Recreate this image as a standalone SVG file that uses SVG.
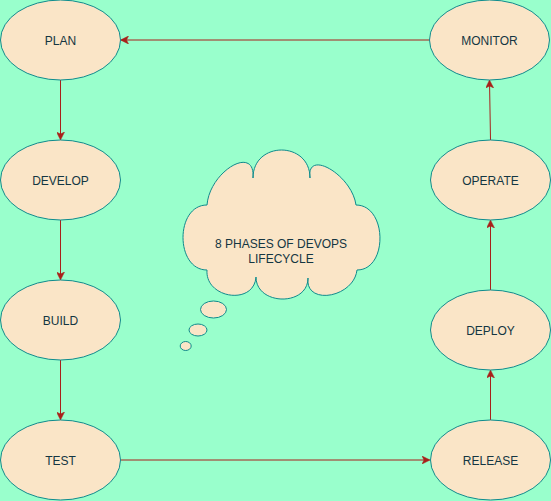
<svg xmlns="http://www.w3.org/2000/svg" width="551" height="501" viewBox="0 0 551 501">
  <style>
    .node { fill: #FAE5C7; stroke: #0F8B8D; stroke-width: 1; }
    .lbl { font-family: "Liberation Sans", Arial, sans-serif; font-size: 12px; fill: #143642; text-anchor: middle; }
    .edge { stroke: #A8201A; stroke-width: 1; fill: none; marker-end: url(#arr); }
  </style>
  <defs>
    <marker id="arr" viewBox="0 0 8 8" refX="7.5" refY="4" markerWidth="8" markerHeight="8" markerUnits="userSpaceOnUse" orient="auto">
      <path d="M0,0 L8,4 L0,8 L2,4 Z" fill="#A8201A" stroke="#A8201A" stroke-width="0.5"/>
    </marker>
  </defs>
  <rect x="0" y="0" width="551" height="501" fill="#99FFCC"/>

  <g id="connectors">
    <line class="edge" x1="429.5" y1="40" x2="121" y2="40"/>
    <line class="edge" x1="60.5" y1="80" x2="60.5" y2="139.5"/>
    <line class="edge" x1="60.5" y1="220" x2="60.5" y2="279.5"/>
    <line class="edge" x1="60.5" y1="360" x2="60.5" y2="419.5"/>
    <line class="edge" x1="120.5" y1="460" x2="429.5" y2="460"/>
    <line class="edge" x1="490.5" y1="420" x2="490.5" y2="370.5"/>
    <line class="edge" x1="490.5" y1="290" x2="490.5" y2="220.5"/>
    <line class="edge" x1="490.5" y1="140" x2="489.5" y2="80.5"/>
  </g>

  <g id="plan">
    <ellipse class="node" cx="60.5" cy="40" rx="60" ry="40"/>
    <text class="lbl" x="60.5" y="44.5">PLAN</text>
  </g>
  <g id="develop">
    <ellipse class="node" cx="60.5" cy="180" rx="60" ry="40"/>
    <text class="lbl" x="60.5" y="184.5">DEVELOP</text>
  </g>
  <g id="build">
    <ellipse class="node" cx="60.5" cy="320" rx="60" ry="40"/>
    <text class="lbl" x="60.5" y="324.5">BUILD</text>
  </g>
  <g id="test">
    <ellipse class="node" cx="60.5" cy="460" rx="60" ry="40"/>
    <text class="lbl" x="60.5" y="464.5">TEST</text>
  </g>
  <g id="release">
    <ellipse class="node" cx="490.5" cy="460" rx="60" ry="40"/>
    <text class="lbl" x="490.5" y="464.5">RELEASE</text>
  </g>
  <g id="deploy">
    <ellipse class="node" cx="490.5" cy="330" rx="60" ry="40"/>
    <text class="lbl" x="490.5" y="334.5">DEPLOY</text>
  </g>
  <g id="operate">
    <ellipse class="node" cx="490.5" cy="180" rx="60" ry="40"/>
    <text class="lbl" x="490.5" y="184.5">OPERATE</text>
  </g>
  <g id="monitor">
    <ellipse class="node" cx="489.5" cy="40" rx="60" ry="40"/>
    <text class="lbl" x="489.5" y="44.5">MONITOR</text>
  </g>

  <g id="cloud">
    <path class="node" d="M207,205 C209.7,171 255.7,144 253,178 C253,140.7 310,140.7 310,178 C306,148 352,175 356,205 C387.3,205 388.3,270 357,270 C353.7,298 304.7,306 308,278 C308,306.7 256,305.7 256,277 C254,305.7 205,298.7 207,270 C175,270 175,205 207,205 Z"/>
    <ellipse class="node" cx="213.5" cy="309.5" rx="13" ry="8.5"/>
    <ellipse class="node" cx="198" cy="330" rx="9" ry="6"/>
    <ellipse class="node" cx="185.7" cy="346" rx="5.5" ry="4.5"/>
    <text class="lbl" x="281" y="247.5">8 PHASES OF DEVOPS</text>
    <text class="lbl" x="281" y="262.5">LIFECYCLE</text>
  </g>
</svg>
